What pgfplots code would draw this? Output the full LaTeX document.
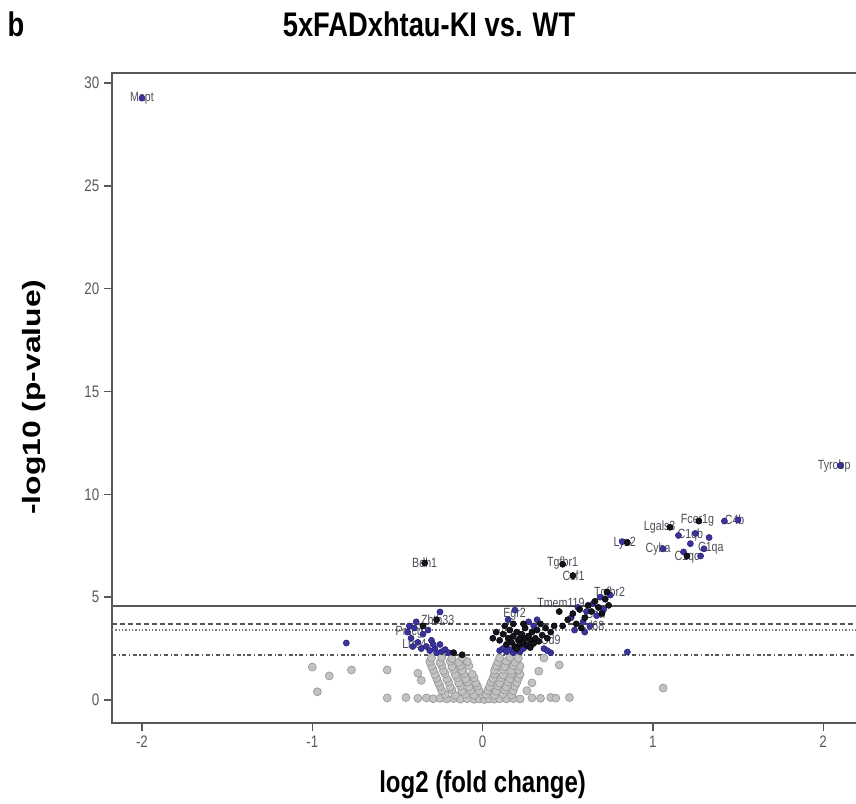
\documentclass[border=0pt]{standalone}
\usepackage{pgfplots}
\pgfplotsset{compat=1.18}
\usepackage{fontspec}
\setmainfont{Liberation Sans}
\newfontfamily\hfont{Liberation Sans}[FakeStretch=0.8]
\newfontfamily\vfont{Liberation Sans}[FakeStretch=1.27]
\definecolor{axgray}{HTML}{575757}
\definecolor{ptgray}{HTML}{C2C2C2}
\definecolor{ptedge}{HTML}{979797}
\definecolor{sigblue}{HTML}{3A339E}
\definecolor{sigdark}{HTML}{141420}
\definecolor{lblgray}{HTML}{2E2E3A}
\begin{document}
\begin{tikzpicture}
\useasboundingbox (-84pt,-60pt) rectangle (558pt,542.25pt);
\clip (-84pt,-60pt) rectangle (558pt,542.25pt);
\begin{axis}[
  scale only axis, width=578.1pt, height=487.5pt,
  xmin=-2.176, xmax=2.35, ymin=-1.12, ymax=30.49,
  xtick={-2,-1,0,1,2}, ytick={0,5,10,15,20,25,30},
  tick pos=left, tick align=outside, major tick length=6pt,
  axis line style={axgray, line width=1.4pt},
  tick style={axgray, line width=1pt},
  /pgf/number format/assume math mode=true,
  ticklabel style={font=\hfont\fontsize{12.5}{14}\selectfont, text=axgray},
  xlabel={\hfont\bfseries\fontsize{22.5}{26}\selectfont log2 (fold change)},
  ylabel={\vfont\bfseries\fontsize{18.8}{22}\selectfont -log10 (p-value)},
  every axis x label/.style={at={(axis description cs:0.4808,0)}, yshift=-46.5pt, anchor=center},
  every axis y label/.style={at={(axis description cs:0,0.5015)}, xshift=-58.5pt, anchor=center, rotate=90},
  title={\hfont\bfseries\fontsize{25.6}{30}\selectfont 5xFADxhtau-KI vs. WT},
  every axis title/.style={at={(axis description cs:0.4113,1.0554)}, anchor=base},
  clip=true,
]
% non-significant genes
\addplot[only marks, mark=*, mark size=3pt, mark options={fill=ptgray, draw=ptedge, line width=0.5pt}] coordinates {
(-0.56,0.10) (-0.45,0.12) (-0.38,0.08) (-0.33,0.10) (-0.29,0.06) (-0.25,0.08) (-0.21,0.05) (-0.17,0.07) (-0.13,0.04) (-0.09,0.06) (-0.05,0.03) (-0.02,0.05) (0.01,0.02) (0.04,0.05) (0.07,0.04) (0.10,0.06) (0.14,0.05) (0.18,0.07) (0.22,0.05) (0.29,0.10) (0.34,0.08) (0.40,0.12) (0.43,0.09) (0.51,0.12)
(-0.22,0.27) (-0.16,0.22) (-0.10,0.28) (-0.05,0.23) (0.00,0.26)
(-0.24,0.45) (-0.18,0.49) (-0.12,0.42) (-0.07,0.47) (-0.02,0.44)
(-0.25,0.66) (-0.19,0.62) (-0.13,0.68) (-0.08,0.63) (-0.03,0.67)
(-0.26,0.84) (-0.20,0.88) (-0.14,0.83) (-0.09,0.87) (-0.04,0.82)
(-0.27,1.06) (-0.21,1.02) (-0.15,1.08) (-0.10,1.03) (-0.05,1.07)
(-0.28,1.24) (-0.22,1.28) (-0.16,1.22) (-0.11,1.27) (-0.06,1.25)
(-0.29,1.46) (-0.23,1.42) (-0.17,1.48) (-0.12,1.43)
(-0.30,1.64) (-0.24,1.68) (-0.18,1.62) (-0.13,1.67) (-0.08,1.65)
(-0.31,1.86) (-0.25,1.82) (-0.19,1.88) (-0.14,1.83) (-0.09,1.87)
(-0.30,2.04) (-0.24,2.07) (-0.18,2.02) (-0.12,2.06)
(0.02,0.27) (0.07,0.23) (0.12,0.28) (0.17,0.24)
(0.03,0.46) (0.08,0.43) (0.13,0.48) (0.18,0.44)
(0.04,0.64) (0.09,0.68) (0.14,0.63) (0.19,0.67)
(0.05,0.86) (0.10,0.82) (0.15,0.87) (0.20,0.84)
(0.06,1.04) (0.11,1.08) (0.16,1.03) (0.21,1.06)
(0.07,1.26) (0.12,1.22) (0.17,1.27) (0.22,1.24)
(0.07,1.44) (0.12,1.48) (0.17,1.43) (0.21,1.47)
(0.08,1.66) (0.13,1.62) (0.18,1.67) (0.22,1.64)
(0.09,1.84) (0.14,1.88) (0.19,1.83)
(0.10,2.04) (0.16,2.07) (0.21,2.02)
(-1.00,1.60) (-0.97,0.40) (-0.90,1.17) (-0.77,1.46) (-0.56,1.46) (-0.38,1.30) (-0.36,0.95)
(0.45,1.70) (0.29,0.83) (0.36,2.04) (1.06,0.58) (0.33,1.40) (0.26,0.45)
};
% threshold lines
\addplot[axgray, line width=1.3pt] coordinates {(-2.176,4.57) (2.35,4.57)};
\addplot[axgray, line width=1.2pt, dash pattern=on 3.5pt off 2.5pt] coordinates {(-2.176,3.69) (2.35,3.69)};
\addplot[axgray!80, line width=0.9pt, dash pattern=on 1pt off 1.5pt] coordinates {(-2.176,3.40) (2.35,3.40)};
\addplot[axgray, line width=1.1pt, dash pattern=on 3pt off 2pt on 0.8pt off 2pt] coordinates {(-2.176,2.19) (2.35,2.19)};
% significant genes (blue)
\addplot[only marks, mark=*, mark size=2.3pt, mark options={fill=sigblue, draw=sigblue!70!black, line width=0.4pt}] coordinates {
(-0.44,3.3) (-0.42,3.0) (-0.41,2.6) (-0.40,3.5) (-0.38,2.8) (-0.36,2.5) (-0.35,3.2) (-0.33,2.6) (-0.31,2.4) (-0.30,2.9) (-0.28,2.5) (-0.27,2.3) (-0.25,2.7) (-0.24,2.35) (-0.25,4.28) (-0.22,2.45) (-0.20,2.3) (-0.39,3.8) (-0.43,3.6) (-0.32,3.4) (-0.29,2.7) (-0.80,2.77)
(0.10,2.4) (0.12,2.5) (0.14,2.35) (0.16,2.45) (0.18,2.3) (0.20,2.4) (0.22,2.35) (0.24,2.5) (0.19,4.37) (0.32,3.9) (0.30,3.6) (0.36,2.5) (0.27,3.8) (0.15,3.9) (0.40,2.3) (0.38,2.4)
(0.52,4.0) (0.56,4.5) (0.59,3.8) (0.61,4.3) (0.63,3.6) (0.65,4.7) (0.67,4.1) (0.69,5.0) (0.71,4.4) (0.75,5.1) (0.54,3.4) (0.60,3.3)
(0.85,2.33) (0.82,7.7) (1.06,7.35) (1.15,8.0) (1.22,7.6) (1.25,8.1) (1.30,7.35) (1.33,7.9) (1.18,7.2) (1.42,8.7) (1.50,8.75) (1.28,7.0) (2.10,11.4) (-2.0,29.27)
};
% significant genes (dark)
\addplot[only marks, mark=*, mark size=2.3pt, mark options={fill=sigdark, draw=black, line width=0.4pt}] coordinates {
(0.10,2.9) (0.12,3.2) (0.14,2.7) (0.15,3.0) (0.16,3.4) (0.17,2.8) (0.18,3.1) (0.19,2.6) (0.20,3.3) (0.21,2.9) (0.22,3.0) (0.22,2.7) (0.23,3.2) (0.24,2.8) (0.25,3.5) (0.25,3.0) (0.26,2.65) (0.27,3.1) (0.28,2.9) (0.29,3.3) (0.30,2.75) (0.31,3.0) (0.32,3.4) (0.33,2.85) (0.35,3.15) (0.37,3.5) (0.38,3.0) (0.40,3.3) (0.42,3.6) (0.13,3.6) (0.18,3.7) (0.08,3.3) (0.06,3.0) (0.20,2.5) (0.28,2.55) (0.24,3.7) (0.34,3.7)
(0.50,3.9) (0.53,4.2) (0.55,3.7) (0.57,4.4) (0.60,4.0) (0.62,4.6) (0.64,4.3) (0.66,4.8) (0.68,4.5) (0.70,4.2) (0.72,4.9) (0.74,4.6) (0.58,3.5) (0.47,3.6) (0.45,4.3)
(-0.12,2.2) (-0.17,2.3) (-0.35,3.6) (-0.27,3.9)
(0.47,6.6) (0.53,6.05) (-0.34,6.66) (0.73,5.25) (0.85,7.65) (1.10,8.4) (1.20,7.0) (1.27,8.7)
};
% gene labels
\begin{scope}[every node/.style={font=\hfont\fontsize{10}{11}\selectfont, text=lblgray, inner sep=0pt, opacity=0.85}]
\node at (axis cs:-2.0,29.27) {Mapt};
\node[anchor=west] at (axis cs:1.967,11.38) {Tyrobp};
\node at (axis cs:-0.34,6.66) {Bdh1};
\node at (axis cs:0.47,6.66) {Tgfbr1};
\node at (axis cs:0.534,6.03) {Csf1};
\node at (axis cs:0.746,5.2) {Tgfbr2};
\node at (axis cs:0.46,4.74) {Tmem119};
\node at (axis cs:1.04,8.41) {Lgals3};
\node at (axis cs:1.262,8.72) {Fcer1g};
\node at (axis cs:1.48,8.75) {C4b};
\node at (axis cs:1.22,8.0) {C1qb};
\node at (axis cs:1.03,7.34) {Cyba};
\node at (axis cs:1.34,7.40) {C1qa};
\node at (axis cs:1.2,6.92) {C1qc};
\node at (axis cs:0.834,7.63) {Lyz2};
\node at (axis cs:-0.264,3.92) {Zbtb33};
\node at (axis cs:-0.43,3.3) {Prkcg};
\node at (axis cs:-0.40,2.70) {Lrrc4};
\node at (axis cs:0.188,4.18) {Egr2};
\node at (axis cs:0.20,3.05) {Gfap};
\node at (axis cs:0.40,2.95) {Cd9};
\node at (axis cs:0.67,4.18) {Cst7};
\node at (axis cs:0.64,3.62) {Cd68};
\end{scope}
\end{axis}
\node[font=\hfont\bfseries\fontsize{25.6}{30}\selectfont, anchor=base] at (-72pt,514.5pt) {b};
\end{tikzpicture}
\end{document}
